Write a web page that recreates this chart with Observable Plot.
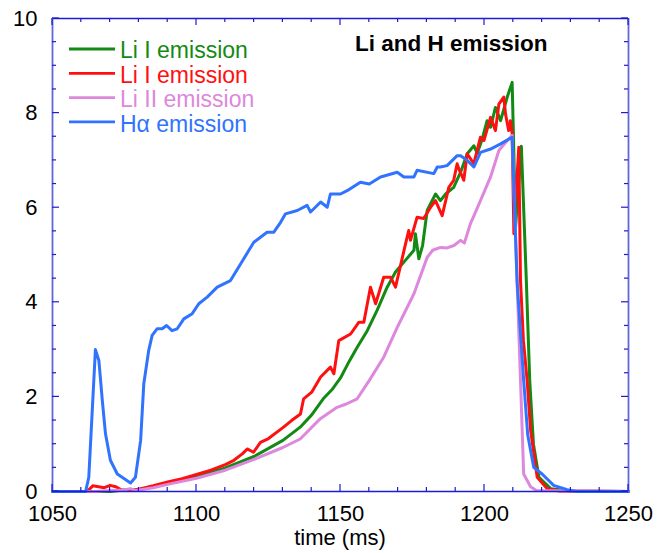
<!DOCTYPE html>
<html>
<head>
<meta charset="utf-8">
<script src="https://cdn.jsdelivr.net/npm/d3@7"></script>
<script src="https://cdn.jsdelivr.net/npm/@observablehq/plot@0.6"></script>
<style>
  html, body { margin: 0; padding: 0; background: #fff; }
  #chart { position: relative; width: 672px; height: 553px; font-family: "Liberation Sans", Arial, sans-serif; }
  #chart svg { display: block; }
</style>
</head>
<body>
<div id="chart"></div>
<script>
// ---------- data ----------
const seriesNames = ["Li I emission", "Li I emission", "Li II emission", "H\u03b1 emission"];
const seriesColors = ["#138a13", "#ff1010", "#dd88dd", "#3073ff"];
const chartTitle = "Li and H emission";
const xLabel = "time (ms)";
const xDomain = [1050, 1250];
const yDomain = [0, 10];
const xMajorTicks = [1050, 1100, 1150, 1200, 1250];
const xMinorTicks = d3.range(1050, 1251, 10);
const yMajorTicks = [0, 2, 4, 6, 8, 10];
const yMinorTicks = d3.range(0, 10.01, 0.5);

// Li I emission (green)
const greenT = [1050,1070,1075,1078,1085,1090,1100,1110,1120,1130,1136,1140,1144,1147,1150,1153,1155.8,1159.3,1162.7,1166.2,1169.1,1172,1175.5,1176,1177.2,1178.5,1180.1,1183,1184.7,1186.5,1189.3,1191.7,1194,1196.3,1197.5,1199.2,1200.9,1202.1,1203.8,1205.6,1207.9,1209.6,1210.8,1212.8,1214.5,1215.7,1217,1218.9,1223,1230,1250];
const greenV = [0,0,0.03,0.02,0.1,0.17,0.32,0.5,0.74,1.08,1.36,1.62,1.96,2.15,2.4,2.75,3.05,3.40,3.83,4.32,4.64,4.85,5.10,5.45,4.92,5.2,5.94,6.29,6.15,6.29,6.43,6.75,7.14,7.31,7.15,7.45,7.84,7.70,8.12,7.84,8.34,8.65,5.6,7.3,4.5,2.35,1.0,0.3,0.06,0.01,0];

// Li I emission (red)
const redT = [1050,1062,1064,1066,1068,1070,1072,1074,1076,1078,1080,1085,1090,1095,1100,1105,1110,1113,1116,1117.6,1119.8,1122.2,1125,1130,1133,1136.1,1137.2,1140,1143.1,1146.5,1147.7,1149.4,1153.5,1156.4,1158.1,1160.4,1162.2,1165,1167.4,1169.1,1172.6,1173.7,1174.3,1176.6,1178.9,1181.3,1183,1185.3,1187.6,1189.3,1190.5,1191.1,1192.8,1194,1196.3,1198.6,1199.8,1202.1,1203.8,1205,1206.7,1207.3,1208.4,1209,1209.6,1210.2,1211.9,1212.5,1213.5,1214.8,1216,1218.3,1221.8,1226,1250];
const redV = [0,0,0.12,0.1,0.08,0.13,0.1,0.03,0.02,0.03,0.05,0.12,0.2,0.27,0.36,0.45,0.57,0.66,0.8,0.9,0.83,1.04,1.12,1.35,1.5,1.64,1.96,2.1,2.42,2.63,2.49,3.19,3.33,3.58,3.58,4.32,3.97,4.53,4.53,4.32,5.24,5.52,5.31,5.80,5.77,6.01,6.15,5.83,6.43,6.58,6.93,6.82,6.58,7.14,6.93,7.49,7.42,7.91,7.63,8.19,8.34,7.98,7.63,7.84,7.56,5.45,7.28,4.46,3.2,2.35,1.3,0.3,0.06,0.01,0];

// Li II emission (pink)
const pinkT = [1050,1065,1070,1075,1077,1079,1085,1090,1100,1110,1120,1130,1136,1143,1148.8,1152,1155.8,1160,1165,1169.7,1175.5,1180.1,1182,1184.7,1187,1189.4,1191.7,1193,1195.1,1198.6,1202.1,1205,1207.9,1209.6,1211,1212.5,1213.6,1216,1218,1250];
const pinkV = [0,0,0.02,0.03,0.06,0.02,0.08,0.15,0.28,0.45,0.68,0.93,1.11,1.54,1.78,1.85,1.96,2.35,2.84,3.47,4.18,4.95,5.1,5.16,5.15,5.20,5.31,5.25,5.66,6.15,6.65,7.21,7.42,7.53,5.0,2.35,0.37,0.1,0.02,0];

// H-alpha emission (blue)
const blueT = [1050,1061.5,1062.6,1064.9,1066.1,1067.3,1068.4,1070.1,1072.5,1077.1,1078.8,1080.6,1081.7,1083.4,1084.6,1086.3,1088.1,1089.6,1091.5,1093.3,1095.6,1098.5,1100.8,1103.7,1107.2,1111.8,1115.3,1119.9,1124.5,1126.8,1129.2,1130.9,1135,1138.4,1139.6,1143.1,1145.4,1146.5,1150,1152.3,1156.9,1160,1163.9,1169.7,1172,1175.5,1176.6,1182.4,1183.6,1184.7,1187,1190.5,1191.7,1194,1196.3,1198.6,1202.1,1205.6,1209.6,1211.3,1213.6,1215,1217.1,1220,1224,1228.7,1232,1250];
const blueV = [0,0,0.3,3.0,2.77,1.92,1.22,0.66,0.37,0.18,0.3,1.08,2.28,2.98,3.30,3.44,3.44,3.51,3.40,3.44,3.65,3.76,3.97,4.11,4.32,4.46,4.81,5.27,5.48,5.48,5.69,5.87,5.94,6.05,5.91,6.12,6.01,6.29,6.29,6.36,6.54,6.5,6.65,6.75,6.65,6.65,6.79,6.72,6.86,6.86,6.89,7.10,7.10,7.00,6.86,7.17,7.24,7.35,7.49,4.46,2.35,1.2,0.51,0.37,0.13,0.04,0,0];

// ---------- build table ----------
const seriesT = [greenT, redT, pinkT, blueT];
const seriesV = [greenV, redV, pinkV, blueV];
const rows = [];
seriesT.forEach((ts, s) => ts.forEach((t, i) => rows.push({s, t, v: seriesV[s][i]})));

const frameDark = "#1c1cd0";
const frameLight = "#6464dc";
const font = "'Liberation Sans', Arial, sans-serif";

const plot = Plot.plot({
  width: 672,
  height: 553,
  marginTop: 18,
  marginBottom: 62,
  marginLeft: 52,
  marginRight: 44,
  style: {fontFamily: font, fontSize: "22px", color: "#000", background: "#fff"},
  x: {domain: xDomain},
  y: {domain: yDomain},
  marks: [
    // tick labels
    Plot.axisX(xMajorTicks, {anchor: "bottom", tickSize: 0, tickPadding: 14, fontSize: 22, fill: "#000",
      tickFormat: d => String(d), label: null}),
    Plot.axisY(yMajorTicks, {anchor: "left", tickSize: 0, tickPadding: 15, fontSize: 22, fill: "#000",
      tickFormat: d => String(d), label: null}),
    // data lines
    Plot.line(rows, {x: "t", y: "v", z: "s", stroke: d => seriesColors[d.s], strokeWidth: 3,
      strokeLinejoin: "round", curve: "linear"}),
    // frame
    Plot.ruleY(yDomain, {stroke: frameDark, strokeWidth: 1.6}),
    Plot.ruleX(xDomain, {stroke: frameLight, strokeWidth: 1.8})
  ]
});

const container = document.getElementById("chart");
container.appendChild(plot);

const sx = plot.scale("x").apply;
const sy = plot.scale("y").apply;
const svg = d3.select(plot);

// inward ticks on all four sides, placed through the plot's own scales
const tg = svg.append("g").attr("stroke", frameDark).attr("stroke-width", 1.2);
const x0 = sx(xDomain[0]), x1 = sx(xDomain[1]);
const y0 = sy(yDomain[0]), y1 = sy(yDomain[1]);
xMinorTicks.forEach(t => {
  const len = xMajorTicks.includes(t) ? 7 : 4;
  const x = sx(t);
  tg.append("line").attr("x1", x).attr("x2", x).attr("y1", y0).attr("y2", y0 - len);
  tg.append("line").attr("x1", x).attr("x2", x).attr("y1", y1).attr("y2", y1 + len);
});
yMinorTicks.forEach(v => {
  const len = yMajorTicks.includes(v) ? 7 : 4;
  const y = sy(v);
  tg.append("line").attr("x1", x0).attr("x2", x0 + len).attr("y1", y).attr("y2", y);
  tg.append("line").attr("x1", x1).attr("x2", x1 - len).attr("y1", y).attr("y2", y);
});

// axis label
svg.append("text")
  .attr("x", (x0 + x1) / 2).attr("y", 545)
  .attr("text-anchor", "middle")
  .attr("font-family", font).attr("font-size", 22).attr("fill", "#000")
  .text(xLabel);

// title
svg.append("text")
  .attr("x", 355).attr("y", 51)
  .attr("text-anchor", "start")
  .attr("font-family", font).attr("font-size", 22.5).attr("font-weight", "bold")
  .attr("fill", "#000")
  .text(chartTitle);

// legend
const leg = svg.append("g").attr("font-family", font).attr("font-size", 23).attr("text-anchor", "start");
seriesNames.forEach((name, i) => {
  const yLine = 49 + i * 24.3;
  leg.append("line").attr("x1", 69).attr("x2", 115).attr("y1", yLine).attr("y2", yLine)
    .attr("stroke", seriesColors[i]).attr("stroke-width", 2.8);
  leg.append("text").attr("x", 120).attr("y", 58.3 + i * 24.5)
    .attr("fill", seriesColors[i]).text(name);
});
</script>
</body>
</html>
